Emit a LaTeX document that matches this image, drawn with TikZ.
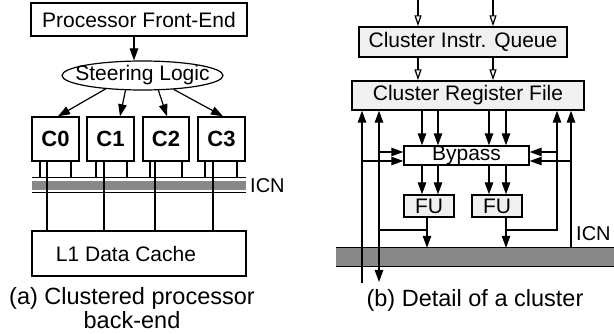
\documentclass[tikz,border=0pt]{standalone}
\usepackage{fontspec}
\setmainfont{Liberation Sans}
\usetikzlibrary{arrows.meta,shapes.geometric}
\definecolor{busgray}{HTML}{888888}
\definecolor{boxfill}{HTML}{F0F0F0}
\begin{document}
\begin{tikzpicture}[x=1pt,y=-1pt,
  box/.style={draw,line width=1.4pt,inner sep=0pt,font=\fontsize{21}{24}\selectfont},
  lbl/.style={inner sep=0pt,font=\fontsize{20}{24}\selectfont},
  captext/.style={inner sep=0pt,font=\fontsize{23.5}{23}\selectfont},
  ln/.style={line width=1.2pt},
  arr/.style={line width=1.2pt,-{Triangle[length=12pt,width=8.5pt]}},
  oarr/.style={line width=1.2pt,-{Triangle[open,length=11pt,width=7pt,fill=white]}}
]
\useasboundingbox (0,0) rectangle (614,334);

% ---------- (a) left panel ----------
\node[box, minimum width=216, minimum height=33] (fe) at (139,19.5) {Processor Front-End};
\node[box, ellipse, line width=1.2pt, minimum width=161, minimum height=29] (sl) at (142.5,75.5) {\makebox[0pt]{Steering Logic}};
\draw[arr] (134,0 |- fe.south) -- (134,0 |- sl.north);

\node[box, font=\bfseries\fontsize{22}{24}\selectfont, minimum width=47, minimum height=44] (c0) at (55.5,139) {C0};
\node[box, font=\bfseries\fontsize{22}{24}\selectfont, minimum width=47, minimum height=44] (c1) at (110.5,139) {C1};
\node[box, font=\bfseries\fontsize{22}{24}\selectfont, minimum width=46, minimum height=44] (c2) at (166,139) {C2};
\node[box, font=\bfseries\fontsize{22}{24}\selectfont, minimum width=47, minimum height=44] (c3) at (221.5,139) {C3};

\draw[arr] (sl.200) -- ([xshift=2.5pt]c0.north);
\draw[arr] (sl.221) -- ([xshift=9.5pt]c1.north);
\draw[arr] (sl.317) -- ([xshift=1pt]c2.north);
\draw[arr] (sl.336) -- ([xshift=1.5pt]c3.north);

% ICN bus (left)
\node[inner sep=0pt, minimum width=214, minimum height=14.5] (icn) at (139,185.4) {};
\fill[busgray] ([yshift=-2.7pt]icn.north west) rectangle ([yshift=3.2pt]icn.south east);
\draw[line width=1.1pt] (icn.north west) -- (icn.north east);
\draw[line width=1.1pt] (icn.south west) -- (icn.south east);
\node[lbl, anchor=west] (icnl) at (250,186) {ICN};

\node[box, minimum width=214, minimum height=45] (l1) at (139,253.5) {L1 Data Cache\hspace*{26pt}};

% short lines cluster -> ICN
\foreach \x/\c in {40/c0,71/c0,96/c1,127/c1,150/c2,182/c2,205/c3,237/c3}
  \draw[ln] (\x,0 |- \c.south) -- (\x,0 |- icn.north);
% long lines cluster -> L1
\foreach \x/\c in {47/c0,104/c1,155/c2,213/c3}
  \draw[ln] (\x,0 |- \c.south) -- (\x,0 |- l1.north);

\node[captext, align=center, anchor=north] (capa) at (132,287) {(a) Clustered processor\\[1.5pt]back-end};

% ---------- (b) right panel ----------
\coordinate (in1) at (418,0);
\coordinate (in2) at (493,0);
\node[box, fill=boxfill, minimum width=208, minimum height=30] (q) at (463,42) {Cluster Instr. Queue};
\node[box, fill=boxfill, minimum width=232, minimum height=29] (rf) at (468,95.5) {Cluster Register File};
\node[box, fill=white, minimum width=125, minimum height=19] (bp) at (466.5,155.5) {Bypass};
\node[box, fill=boxfill, minimum width=50, minimum height=22] (fu1) at (429,206) {FU};
\node[box, fill=boxfill, minimum width=50, minimum height=22] (fu2) at (497,206) {FU};

% bus (right)
\node[inner sep=0pt, minimum width=278, minimum height=18] (bus) at (475,257) {};
\fill[busgray] (bus.north west) rectangle (bus.south east);
\draw[line width=1.3pt] (bus.north west) -- (bus.north east);
\draw[line width=1.3pt] (bus.south west) -- (bus.south east);
\node[lbl, anchor=west] (icnr) at (576,233.5) {ICN};

\draw[oarr] (in1) -- (in1 |- q.north);
\draw[oarr] (in2) -- (in2 |- q.north);
\draw[oarr] (in1 |- q.south) -- (in1 |- rf.north);
\draw[oarr] (in2 |- q.south) -- (in2 |- rf.north);

\foreach \x in {422,438,489,506}
  \draw[arr] (\x,0 |- rf.south) -- (\x,0 |- bp.north);
\foreach \x in {422,438}
  \draw[arr] (\x,0 |- bp.south) -- (\x,0 |- fu1.north);
\foreach \x in {489,506}
  \draw[arr] (\x,0 |- bp.south) -- (\x,0 |- fu2.north);

\draw[arr] (427,0 |- fu1.south) -- (427,0 |- bus.north);
\draw[arr] (506,0 |- fu2.south) -- (506,0 |- bus.north);

\coordinate (j1) at (427,230);
\coordinate (j2) at (506,230);
\coordinate (l1b) at (362,283);
\coordinate (l2b) at (379,282);
\coordinate (r1) at (557,230);
\coordinate (r2) at (571,0);
\coordinate (bw1) at ([yshift=3.5pt]bp.west);
\coordinate (bw2) at ([yshift=-5.5pt]bp.west);
\coordinate (be1) at ([yshift=3.5pt]bp.east);
\coordinate (be2) at ([yshift=-5.5pt]bp.east);

\draw[arr] (l1b) -- (l1b |- rf.south);
\draw[arr] (j1) -- (l2b |- j1) -- (l2b);
\draw[arr] (l2b |- j1) -- (l2b |- rf.south);
\draw[arr] (j2) -- (r1) -- (r1 |- rf.south);
\draw[arr] (r2 |- bus.north) -- (r2 |- rf.south);

\draw[arr] (l2b |- bw1) -- (bw1);
\draw[arr] (l1b |- bw2) -- (bw2);
\draw[arr] (r1 |- be1) -- (be1);
\draw[arr] (r2 |- be2) -- (be2);

\node[captext, anchor=base] (capb) at (475,306) {(b) Detail of a cluster};
\end{tikzpicture}
\end{document}
